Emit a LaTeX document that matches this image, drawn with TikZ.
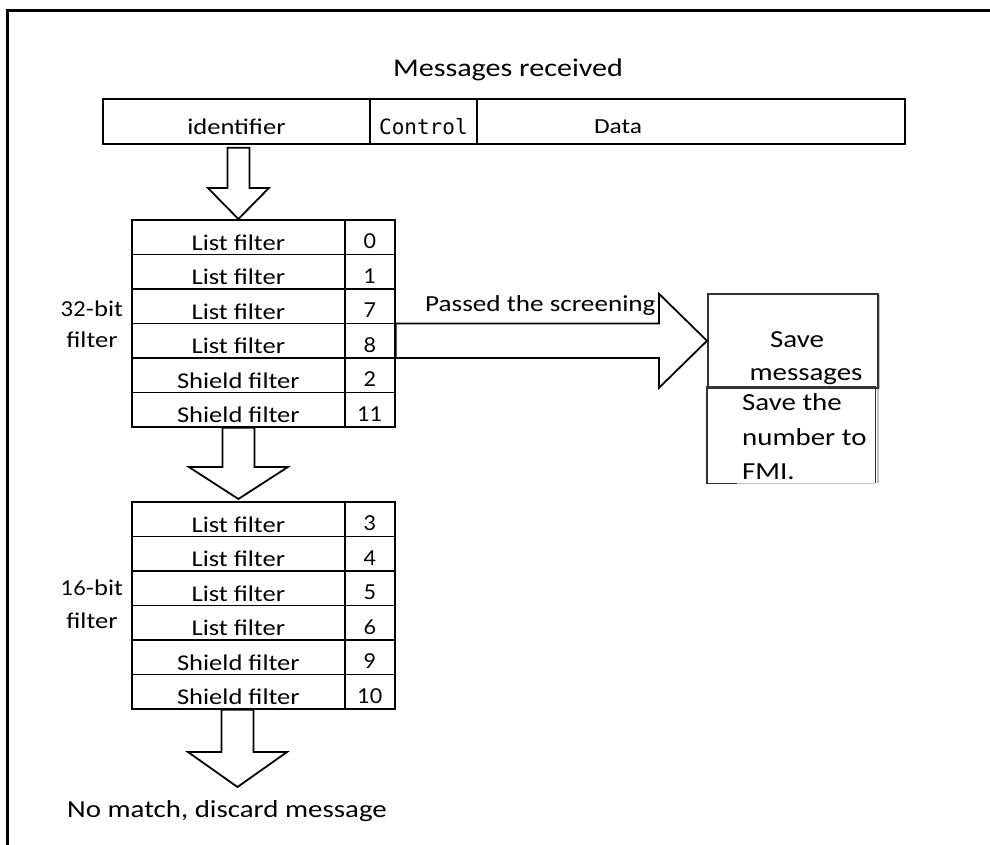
\documentclass[tikz,border=0pt]{standalone}
\usepackage{fontspec}
\setmainfont{Carlito}[FakeStretch=1.18]
\newfontfamily\numfont{Lato}[FakeStretch=1.05]
\newfontfamily\ctlfont{DejaVu Sans Mono}
\usetikzlibrary{calc}
\tikzset{
  cell/.style={draw, line width=1.8pt, inner sep=0pt, minimum height=34.5pt, anchor=north west},
  cellL/.style={cell, minimum width=213pt},
  cellR/.style={cell, minimum width=50pt},
  barcell/.style={draw, line width=1.8pt, inner sep=0pt, minimum height=45pt, anchor=north west},
  tabtxt/.style={inner sep=0pt, anchor=base, font=\fontsize{22.5}{27}\selectfont},
  numtxt/.style={inner sep=0pt, anchor=base, font=\numfont\fontsize{20.5}{25}\selectfont},
  bigtxt/.style={inner sep=0pt, anchor=base, font=\fontsize{24.5}{30}\selectfont},
  boxtxt/.style={inner sep=0pt, font=\fontsize{24.5}{30}\selectfont},
  blockarr/.style={draw, line width=1.8pt, fill=white, line join=miter},
  savebox/.style={draw=black!80, line width=1.6pt, inner sep=0pt, anchor=north west},
  shadowline/.style={draw=black!25, line width=1.6pt},
}
\newcommand\downblock[5]{%
  \draw[blockarr] let \p1=(#1), \p2=(#2) in
    (\x2-#3pt,\y1) -- (\x2+#3pt,\y1) -- (\x2+#3pt,\y2+#5pt) -- (\x2+#4pt,\y2+#5pt)
    -- (\x2,\y2) -- (\x2-#4pt,\y2+#5pt) -- (\x2-#3pt,\y2+#5pt) -- cycle;}
\newcommand\rightblock[5]{%
  \draw[blockarr] let \p1=(#1), \p2=(#2) in
    (\x1,\y2+#3pt) -- (\x2-#5pt,\y2+#3pt) -- (\x2-#5pt,\y2+#4pt) -- (\x2,\y2)
    -- (\x2-#5pt,\y2-#4pt) -- (\x2-#5pt,\y2-#3pt) -- (\x1,\y2-#3pt) -- cycle;}
\begin{document}
\begin{tikzpicture}[x=1pt,y=-1pt]
\useasboundingbox (0,0) rectangle (990,844);
\clip (0,0) rectangle (990,844);
\fill[white] (0,0) rectangle (990,844);
% outer frame
\draw[line width=3pt] (7,900) -- (7,10) -- (1100,10);

% title
\node[inner sep=0pt, anchor=base, font=\fontsize{25.5}{30}\selectfont] (title) at (508,76) {Messages received};

% message bar
\node[barcell, minimum width=267pt] (idf) at (102,98) {};
\node[barcell, minimum width=107pt] (ctl) at (369,98) {};
\node[barcell, minimum width=428pt] (dat) at (476,98) {};
\node[tabtxt] (idft) at ($(idf.south)+(0,-10)$) {identifier};
\node[inner sep=0pt, anchor=base, font=\ctlfont\fontsize{21}{25}\selectfont] (ctlt) at ($(ctl.south)+(0,-10)$) {Control};
\node[tabtxt, font=\fontsize{21.5}{26}\selectfont] (datt) at (618,133) {Data};

% 32-bit filter table
\foreach \i/\lab/\num in {1/List filter/0, 2/List filter/1, 3/List filter/7, 4/List filter/8, 5/Shield filter/2, 6/Shield filter/11}{
  \pgfmathsetmacro\yy{219+(\i-1)*34.5}
  \node[cellL] (a\i) at (131,\yy) {};
  \node[cellR] (a\i n) at (344,\yy) {};
  \node[tabtxt] (a\i t) at ($(a\i.south)+(0,-5)$) {\lab};
  \node[numtxt] (a\i nt) at ($(a\i n.south)+(0,-6.5)$) {\num};
}
% 16-bit filter table
\foreach \i/\lab/\num in {1/List filter/3, 2/List filter/4, 3/List filter/5, 4/List filter/6, 5/Shield filter/9, 6/Shield filter/10}{
  \pgfmathsetmacro\yy{501+(\i-1)*34.5}
  \node[cellL] (b\i) at (131,\yy) {};
  \node[cellR] (b\i n) at (344,\yy) {};
  \node[tabtxt] (b\i t) at ($(b\i.south)+(0,-5)$) {\lab};
  \node[numtxt] (b\i nt) at ($(b\i n.south)+(0,-6.5)$) {\num};
}
% side labels
\node[tabtxt] (l32a) at (92,316) {{\numfont\fontsize{20.5}{25}\selectfont 32}-bit};
\node[tabtxt] (l32b) at (92,347) {filter};
\node[tabtxt] (l16a) at (92,595) {{\numfont\fontsize{20.5}{25}\selectfont 16}-bit};
\node[tabtxt] (l16b) at (92,628) {filter};

% block arrows down
\coordinate (s1) at ($(idf.south)+(0,3)$);
\coordinate (e1) at (a1.north);
\downblock{s1}{e1}{11}{30.5}{31}
\coordinate (e2) at ($(b1.north)+(0,-2)$);
\downblock{a6.south}{e2}{16}{49.5}{32}
\coordinate (discardtip) at (237.5,787);
\downblock{b6.south}{discardtip}{16}{49.5}{35}
\node[bigtxt] (discard) at (227,817) {No match, discard message};

% save boxes
\draw[shadowline] (879,295) -- (879,389);
\node[savebox, minimum width=170pt, minimum height=94pt] (save) at (707,293) {};
\node[boxtxt, anchor=base] (savet1) at (797,347) {Save};
\node[boxtxt, anchor=base] (savet2) at (806,380) {messages};

\node[inner sep=0pt, minimum width=168pt, minimum height=96pt, anchor=north west] (fmi) at (707,387) {};
\draw[shadowline] ($(fmi.north east)+(2.5,2)$) -- ($(fmi.south east)+(2.5,0)$);
\draw[shadowline] ($(fmi.south west)+(30,0)$) -- (fmi.south east);
\draw[draw=black!80, line width=1.6pt] ($(fmi.south west)+(30,0)$) -- (fmi.south west) -- (fmi.north west) -- (fmi.north east) -- (fmi.south east);
\node[boxtxt, anchor=base west] (fmit1) at (742,410) {Save the};
\node[boxtxt, anchor=base west] (fmit2) at (742,445) {number to};
\node[boxtxt, anchor=base west] (fmit3) at (742,479) {FMI.};

% passed arrow
\rightblock{a4n.east}{save.west}{17.25}{47}{48}
\node[inner sep=0pt, anchor=base west, font=\fontsize{23}{28}\selectfont] (passed) at (425,311) {Passed the screening};
\end{tikzpicture}
\end{document}
